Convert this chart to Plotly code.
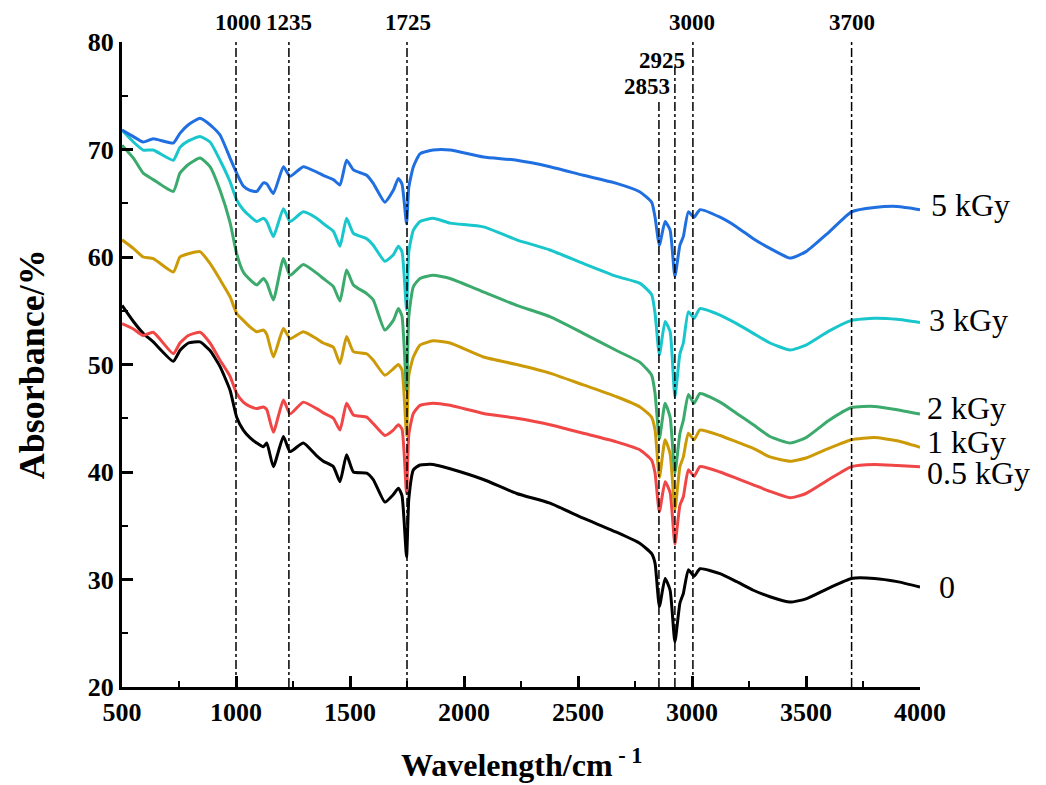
import plotly.graph_objects as go

# ---------------- data ----------------
wavenumber = [500, 550, 593, 637, 725, 754, 791, 842, 886, 930, 974, 1003, 1032, 1061, 1091,
              1120, 1135, 1164, 1208, 1237, 1295, 1354, 1383, 1427, 1456, 1485, 1515, 1573,
              1602, 1653, 1690, 1712, 1728, 1748, 1758, 1778, 1807, 1865, 1939, 2085, 2231,
              2377, 2523, 2669, 2772, 2823, 2838, 2857, 2882, 2904, 2925, 2947, 2962, 2984,
              3009, 3035, 3123, 3196, 3269, 3342, 3430, 3500, 3600, 3700, 3800, 3900, 4000]

abs_0 = [55.5, 54.0, 52.9, 52.1, 50.3, 51.3, 52.0, 52.1, 51.3, 49.8, 47.6, 45.1, 43.9, 43.2, 42.7,
         42.35, 42.7, 40.5, 43.3, 41.9, 42.7, 41.5, 41.0, 40.5, 39.1, 41.6, 40.0, 39.9,
         39.3, 37.2, 37.9, 38.5, 37.8, 32.1, 37.5, 40.2, 40.65, 40.7, 40.3, 39.3, 38.0,
         37.1, 35.7, 34.4, 33.35, 32.4, 31.5, 27.5, 30.1, 29.0, 24.2, 27.8, 28.7, 30.9,
         30.3, 31.0, 30.55, 29.8, 29.0, 28.4, 27.9, 28.2, 29.2, 30.1, 30.1, 29.8, 29.3]

abs_05 = [53.8, 53.3, 52.7, 53.0, 51.0, 52.0, 52.7, 53.0, 52.0, 50.4, 48.9, 47.3, 46.5, 46.1, 45.9,
          46.05, 45.8, 43.7, 46.7, 45.4, 46.5, 45.9, 45.5, 45.0, 43.9, 46.4, 45.3, 45.1,
          44.5, 43.4, 43.9, 44.4, 44.0, 38.0, 43.5, 45.45, 46.2, 46.4, 46.2, 45.45, 45.0,
          44.4, 43.6, 42.8, 42.05, 41.1, 39.9, 36.3, 39.1, 38.1, 33.3, 36.9, 37.7, 40.2,
          39.6, 40.5, 40.0, 39.4, 38.8, 38.2, 37.6, 38.0, 39.3, 40.5, 40.7, 40.6, 40.5]

abs_1 = [61.6, 60.8, 60.0, 59.85, 58.6, 60.0, 60.3, 60.5, 59.4, 57.9, 56.3, 54.75, 54.1, 53.5, 53.05,
         53.2, 52.8, 50.7, 53.35, 52.4, 53.05, 52.4, 52.0, 51.6, 50.1, 52.6, 51.2, 51.0,
         50.4, 49.0, 49.6, 50.0, 49.5, 43.4, 49.0, 50.7, 51.8, 52.2, 52.0, 50.7, 50.0,
         49.2, 48.1, 47.0, 46.05, 45.1, 43.9, 39.5, 43.0, 41.7, 36.5, 40.5, 41.4, 43.6,
         43.0, 43.9, 43.4, 42.8, 42.2, 41.4, 41.0, 41.3, 42.2, 43.0, 43.2, 42.9, 42.3]

abs_2 = [70.4, 69.2, 67.8, 67.2, 66.1, 67.8, 68.6, 69.2, 68.4, 66.2, 63.2, 60.3, 58.6, 57.9, 57.4,
         58.0, 57.6, 56.0, 59.85, 58.3, 59.3, 58.5, 58.0, 57.25, 55.9, 58.8, 57.4, 56.6,
         56.0, 53.2, 54.1, 55.2, 54.5, 47.6, 54.5, 57.25, 58.0, 58.3, 58.0, 56.75, 55.5,
         54.45, 52.9, 51.3, 50.2, 49.0, 47.3, 43.1, 46.4, 45.1, 39.9, 43.6, 44.8, 47.2,
         46.4, 47.3, 46.5, 45.45, 44.4, 43.3, 42.7, 43.2, 44.8, 46.0, 46.1, 45.8, 45.4]

abs_3 = [71.8, 70.7, 69.95, 69.95, 69.0, 70.2, 70.8, 71.2, 70.7, 69.0, 67.0, 65.3, 64.4, 63.8, 63.3,
         63.6, 63.3, 61.9, 64.5, 63.3, 64.2, 63.6, 63.1, 62.4, 61.0, 63.6, 62.2, 61.7,
         61.1, 59.6, 60.2, 61.0, 60.5, 55.1, 60.5, 62.5, 63.3, 63.6, 63.15, 62.8, 61.6,
         60.65, 59.4, 58.2, 57.55, 56.5, 54.75, 50.9, 54.0, 53.05, 47.0, 51.0, 52.0, 54.9,
         54.3, 55.2, 54.6, 53.8, 52.9, 52.0, 51.35, 51.8, 53.1, 54.1, 54.3, 54.2, 53.9]

abs_5 = [71.8, 71.2, 70.7, 71.0, 70.6, 71.5, 72.3, 72.9, 72.3, 71.35, 69.2, 67.8, 66.6, 66.2, 66.1,
         66.9, 66.8, 65.9, 68.4, 67.5, 68.4, 67.9, 67.6, 67.2, 66.7, 69.0, 68.1, 67.6,
         66.85, 65.1, 66.2, 67.3, 66.8, 63.1, 66.5, 68.4, 69.6, 69.95, 69.95, 69.3, 69.0,
         68.4, 67.6, 66.85, 66.05, 65.1, 63.7, 61.1, 63.3, 62.5, 58.2, 61.1, 61.9, 64.2,
         63.7, 64.4, 63.7, 62.8, 61.7, 60.8, 59.9, 60.5, 62.3, 64.2, 64.6, 64.7, 64.4]

series_names = ["0", "0.5 kGy", "1 kGy", "2 kGy", "3 kGy", "5 kGy"]
series_values = [abs_0, abs_05, abs_1, abs_2, abs_3, abs_5]
series_colors = ["#000000", "#F04646", "#CC9A06", "#3BAA6C", "#18C6CC", "#1F6FE0"]

# reference (dash-dot) lines: drawn position, label, top value
ref_line_x = [1000, 1232, 1750, 2855, 2925, 3004, 3700]
ref_line_label = ["1000", "1235", "1725", "2853", "2925", "3000", "3700"]
ref_line_top = [80, 80, 80, 74.6, 77.7, 80, 80]

# ---------------- figure ----------------
SERIF = "Liberation Serif, Times New Roman, serif"
fig = go.Figure()

for name, vals, col in zip(series_names, series_values, series_colors):
    fig.add_trace(go.Scatter(x=wavenumber, y=vals, mode="lines", name=name,
                             line=dict(color=col, width=3, shape="spline", smoothing=0.5),
                             showlegend=False))

shapes = []
for xv, top in zip(ref_line_x, ref_line_top):
    shapes.append(dict(type="line", xref="x", yref="y", x0=xv, x1=xv, y0=20, y1=top,
                       line=dict(color="black", width=1.5, dash="dashdot"), layer="above"))

annotations = []
label_pos = {
    "1000": (1009, "paper", 1.0295),
    "1235": (1232, "paper", 1.0295),
    "1725": (1754, "paper", 1.0295),
    "3000": (3000, "paper", 1.0295),
    "3700": (3702, "paper", 1.0295),
    "2925": (2868, "y", 78.3),
    "2853": (2803, "y", 75.9),
}
for lab in ref_line_label:
    xx, yr, yy = label_pos[lab]
    annotations.append(dict(x=xx, y=yy, xref="x", yref=yr, text=lab, showarrow=False,
                            xanchor="center", yanchor="middle",
                            font=dict(family=SERIF, size=23, color="black", weight="bold")))

# right-hand curve labels (left edge in px from plot left, y in data units)
end_label_pos = {"5 kGy": (807, 64.8), "3 kGy": (805, 54.1), "2 kGy": (803, 46.0),
                 "1 kGy": (803, 42.8), "0.5 kGy": (803, 39.9), "0": (815, 29.3)}
for name in series_names:
    xpx, yy = end_label_pos[name]
    annotations.append(dict(x=xpx / 798.0, y=yy, xref="paper", yref="y", text=name,
                            showarrow=False, xanchor="left", yanchor="middle",
                            font=dict(family=SERIF, size=32, color="black")))

# axis titles
annotations.append(dict(x=0.5, y=-0.118, xref="paper", yref="paper", yanchor="middle",
                        text="Wavelength/cm<sup> - 1</sup>", showarrow=False,
                        font=dict(family=SERIF, size=32, color="black", weight="bold")))
annotations.append(dict(x=-0.113, y=0.5, xref="paper", yref="paper", textangle=-90,
                        xanchor="center", yanchor="middle",
                        text="Absorbance/%", showarrow=False,
                        font=dict(family=SERIF, size=36, color="black", weight="bold")))

# page body has an 8px margin, so the figure is 8px smaller than the window
fig.update_layout(
    width=1038, height=777,
    margin=dict(l=114, r=126, t=34, b=98),
    paper_bgcolor="white", plot_bgcolor="white",
    shapes=shapes, annotations=annotations,
    font=dict(family=SERIF, color="black"),
)
fig.update_xaxes(range=[500, 4000], tickvals=[500, 1000, 1500, 2000, 2500, 3000, 3500, 4000],
                 ticks="inside", ticklen=11, tickwidth=2.5, tickcolor="black",
                 minor=dict(ticks="inside", ticklen=6, tickwidth=2, tickcolor="black", dtick=250),
                 showline=True, linewidth=3, linecolor="black", mirror=False,
                 showgrid=False, zeroline=False,
                 tickfont=dict(family=SERIF, size=26, color="black", weight="bold"))
fig.update_yaxes(range=[20, 80], dtick=10, tick0=20,
                 ticks="inside", ticklen=11, tickwidth=2.5, tickcolor="black",
                 minor=dict(ticks="inside", ticklen=6, tickwidth=2, tickcolor="black", dtick=5),
                 showline=True, linewidth=3, linecolor="black", mirror=False,
                 showgrid=False, zeroline=False,
                 tickfont=dict(family=SERIF, size=26, color="black", weight="bold"))

fig.write_html("out.html")
